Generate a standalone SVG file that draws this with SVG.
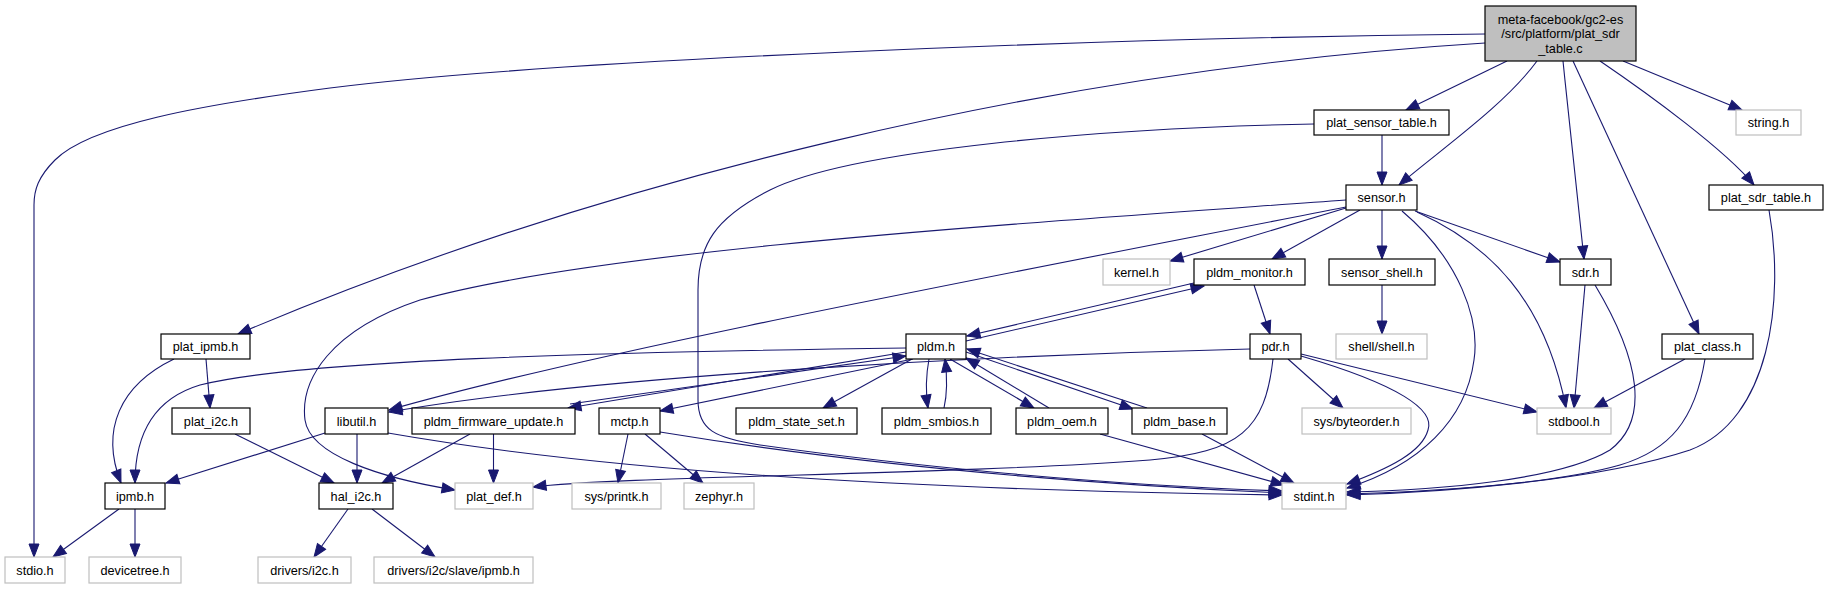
<svg xmlns="http://www.w3.org/2000/svg" width="1828" height="589" viewBox="0 0 1828 589">
<style>
.e{fill:none;stroke:#191970;stroke-width:1.1;marker-end:url(#a)}
.n rect{fill:#fff;stroke:#000;stroke-width:1.2}
.g rect{fill:#fff;stroke:#bfbfbf;stroke-width:1.2}
.m rect{fill:#bfbfbf;stroke:#000;stroke-width:1.2}
text{font-family:"Liberation Sans",Arial,Helvetica,sans-serif;font-size:12.7px;text-anchor:middle;fill:#000}
</style>
<defs>
<marker id="a" markerUnits="userSpaceOnUse" markerWidth="14" markerHeight="11" refX="13" refY="5.5" orient="auto" viewBox="0 0 14 11" overflow="visible"><path d="M0,0.5 L13,5.5 L0,10.5 z" fill="#191970" stroke="#191970" stroke-width="1"/></marker>
</defs>
<rect width="1828" height="589" fill="#fff"/>
<g id="edges">
<path class="e" d="M1485,34 C1100,38 550,60 330,88 C200,105 90,125 55,160 C38,177 34,190 34,205 V557"/>
<path class="e" d="M1485,43 C1050,70 600,180 238,334"/>
<path class="e" d="M1507,61 L1406,110"/>
<path class="e" d="M1537,61 C1505,105 1440,150 1399,185"/>
<path class="e" d="M1563,61 C1570,130 1578,200 1584,259"/>
<path class="e" d="M1573,61 L1699,334"/>
<path class="e" d="M1600,61 C1650,95 1725,150 1754,185"/>
<path class="e" d="M1623,61 L1742,110"/>
<path class="e" d="M1382,135 V185"/>
<path class="e" d="M1314,124 C1100,128 850,150 770,190 C715,218 698,245 698,290 L698,400 C698,430 715,438 760,445 C900,465 1100,485 1282,491"/>
<path class="e" d="M1346,208 L1170,261"/>
<path class="e" d="M1360,210 L1272,259"/>
<path class="e" d="M1382,210 V259"/>
<path class="e" d="M1415,211 L1560,262"/>
<path class="e" d="M1402,211 C1460,260 1480,320 1474,360 C1466,420 1420,465 1347,488"/>
<path class="e" d="M1417,212 C1490,245 1545,300 1566,408"/>
<path class="e" d="M1346,207 C1000,275 600,350 389,410"/>
<path class="e" d="M1346,200 C1000,225 600,250 420,300 C330,330 300,380 305,420 C310,455 380,478 455,490"/>
<path class="e" d="M1382,285 V334"/>
<path class="e" d="M1254,285 L1270,334"/>
<path class="e" d="M966,341 L1204,286"/>
<path class="e" d="M1194,283 L967,336"/>
<path class="e" d="M1250,349 C1000,355 600,375 389,412"/>
<path class="e" d="M1273,359 C1265,430 1240,452 1150,460 C950,475 620,476 533,487"/>
<path class="e" d="M1288,359 L1343,408"/>
<path class="e" d="M1301,354 L1537,412"/>
<path class="e" d="M1301,356 C1400,385 1435,410 1428,430 C1422,452 1390,468 1347,484"/>
<path class="e" d="M1585,285 L1574,408"/>
<path class="e" d="M1595,285 C1640,360 1650,420 1610,450 C1560,480 1440,490 1347,492"/>
<path class="e" d="M1685,359 L1594,408"/>
<path class="e" d="M1705,359 C1695,420 1670,450 1620,465 C1550,485 1420,492 1347,494"/>
<path class="e" d="M1769,210 C1785,300 1770,420 1690,450 C1600,480 1450,492 1347,495"/>
<path class="e" d="M174,359 C120,385 100,430 121,483"/>
<path class="e" d="M206,359 L210,408"/>
<path class="e" d="M906,348 C600,352 300,360 200,385 C150,400 135,440 135,483"/>
<path class="e" d="M906,352 L568,408"/>
<path class="e" d="M570,404 L906,356"/>
<path class="e" d="M913,359 L660,411"/>
<path class="e" d="M912,359 L823,408"/>
<path class="e" d="M929,359 C926,375 926,395 928,408"/>
<path class="e" d="M944,408 C947,395 947,375 945,359"/>
<path class="e" d="M950,359 L1034,408"/>
<path class="e" d="M1049,408 L966,358"/>
<path class="e" d="M966,352 L1133,409"/>
<path class="e" d="M1147,408 L967,349"/>
<path class="e" d="M235,434 L334,483"/>
<path class="e" d="M325,433 L166,483"/>
<path class="e" d="M357,434 V483"/>
<path class="e" d="M388,433 C600,470 900,490 1282,495"/>
<path class="e" d="M470,434 L382,483"/>
<path class="e" d="M493.5,434 V483"/>
<path class="e" d="M628,434 L618,483"/>
<path class="e" d="M645,434 L703,483"/>
<path class="e" d="M660,432 C800,455 1000,480 1282,493"/>
<path class="e" d="M1100,434 L1284,485"/>
<path class="e" d="M1202,434 L1294,483"/>
<path class="e" d="M119,509 L53,557"/>
<path class="e" d="M135,509 V557"/>
<path class="e" d="M348,509 L314,557"/>
<path class="e" d="M372,509 L435,557"/>
</g>
<g id="n_main" class="m"><rect x="1485" y="6" width="151" height="55"/><text x="1560.5" y="23.5">meta-facebook/gc2-es</text><text x="1560.5" y="38">/src/platform/plat_sdr</text><text x="1560.5" y="52.5">_table.c</text></g>
<g id="n_plat_sensor_table" class="n"><rect x="1314" y="110" width="135" height="25"/><text x="1381.5" y="127">plat_sensor_table.h</text></g>
<g id="n_string" class="g"><rect x="1736" y="110" width="65" height="25"/><text x="1768.5" y="127">string.h</text></g>
<g id="n_sensor" class="n"><rect x="1346" y="185" width="71" height="25"/><text x="1381.5" y="202">sensor.h</text></g>
<g id="n_plat_sdr_table" class="n"><rect x="1709" y="185" width="114" height="25"/><text x="1766" y="202">plat_sdr_table.h</text></g>
<g id="n_kernel" class="g"><rect x="1103" y="259" width="67" height="26"/><text x="1136.5" y="276.5">kernel.h</text></g>
<g id="n_pldm_monitor" class="n"><rect x="1194" y="259" width="111" height="26"/><text x="1249.5" y="276.5">pldm_monitor.h</text></g>
<g id="n_sensor_shell" class="n"><rect x="1329" y="259" width="106" height="26"/><text x="1382" y="276.5">sensor_shell.h</text></g>
<g id="n_sdr" class="n"><rect x="1560" y="259" width="51" height="26"/><text x="1585.5" y="276.5">sdr.h</text></g>
<g id="n_plat_ipmb" class="n"><rect x="161" y="334" width="89" height="25"/><text x="205.5" y="351">plat_ipmb.h</text></g>
<g id="n_pldm" class="n"><rect x="906" y="334" width="60" height="25"/><text x="936" y="351">pldm.h</text></g>
<g id="n_pdr" class="n"><rect x="1250" y="334" width="51" height="25"/><text x="1275.5" y="351">pdr.h</text></g>
<g id="n_shell" class="g"><rect x="1336" y="334" width="91" height="25"/><text x="1381.5" y="351">shell/shell.h</text></g>
<g id="n_plat_class" class="n"><rect x="1662" y="334" width="91" height="25"/><text x="1707.5" y="351">plat_class.h</text></g>
<g id="n_plat_i2c" class="n"><rect x="172" y="408" width="78" height="26"/><text x="211" y="425.5">plat_i2c.h</text></g>
<g id="n_libutil" class="n"><rect x="325" y="408" width="63" height="26"/><text x="356.5" y="425.5">libutil.h</text></g>
<g id="n_pldm_fw" class="n"><rect x="412" y="408" width="163" height="26"/><text x="493.5" y="425.5">pldm_firmware_update.h</text></g>
<g id="n_mctp" class="n"><rect x="599" y="408" width="61" height="26"/><text x="629.5" y="425.5">mctp.h</text></g>
<g id="n_pldm_state_set" class="n"><rect x="736" y="408" width="121" height="26"/><text x="796.5" y="425.5">pldm_state_set.h</text></g>
<g id="n_pldm_smbios" class="n"><rect x="882" y="408" width="109" height="26"/><text x="936.5" y="425.5">pldm_smbios.h</text></g>
<g id="n_pldm_oem" class="n"><rect x="1016" y="408" width="92" height="26"/><text x="1062" y="425.5">pldm_oem.h</text></g>
<g id="n_pldm_base" class="n"><rect x="1132" y="408" width="95" height="26"/><text x="1179.5" y="425.5">pldm_base.h</text></g>
<g id="n_byteorder" class="g"><rect x="1302" y="408" width="109" height="26"/><text x="1356.5" y="425.5">sys/byteorder.h</text></g>
<g id="n_stdbool" class="g"><rect x="1537" y="408" width="74" height="26"/><text x="1574" y="425.5">stdbool.h</text></g>
<g id="n_ipmb" class="n"><rect x="105" y="483" width="60" height="26"/><text x="135" y="500.5">ipmb.h</text></g>
<g id="n_hal_i2c" class="n"><rect x="319" y="483" width="74" height="26"/><text x="356" y="500.5">hal_i2c.h</text></g>
<g id="n_plat_def" class="g"><rect x="455" y="483" width="78" height="26"/><text x="494" y="500.5">plat_def.h</text></g>
<g id="n_printk" class="g"><rect x="572" y="483" width="89" height="26"/><text x="616.5" y="500.5">sys/printk.h</text></g>
<g id="n_zephyr" class="g"><rect x="684" y="483" width="70" height="26"/><text x="719" y="500.5">zephyr.h</text></g>
<g id="n_stdint" class="g"><rect x="1282" y="483" width="64" height="26"/><text x="1314" y="500.5">stdint.h</text></g>
<g id="n_stdio" class="g"><rect x="5" y="557" width="60" height="26"/><text x="35" y="574.5">stdio.h</text></g>
<g id="n_devicetree" class="g"><rect x="89" y="557" width="92" height="26"/><text x="135" y="574.5">devicetree.h</text></g>
<g id="n_drivers_i2c" class="g"><rect x="258" y="557" width="93" height="26"/><text x="304.5" y="574.5">drivers/i2c.h</text></g>
<g id="n_drivers_ipmb" class="g"><rect x="374" y="557" width="159" height="26"/><text x="453.5" y="574.5">drivers/i2c/slave/ipmb.h</text></g>
</svg>
